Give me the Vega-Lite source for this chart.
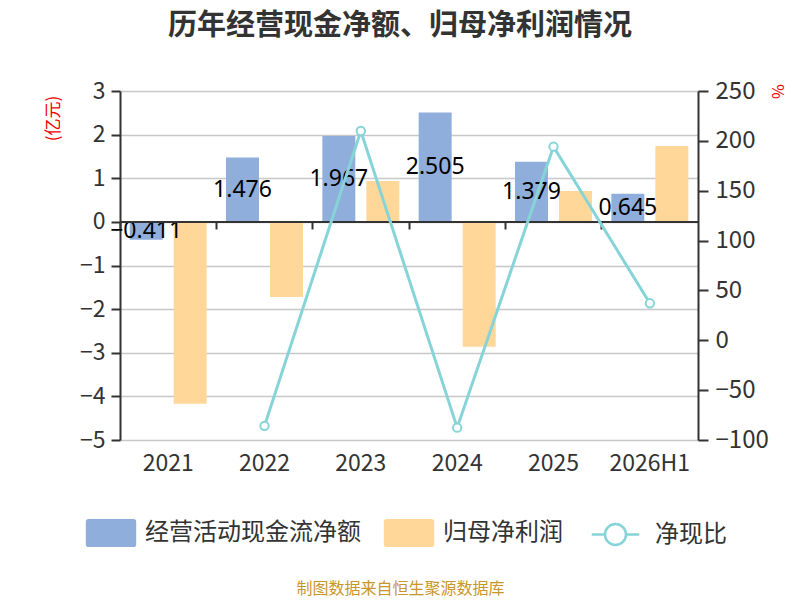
{
  "$schema": "https://vega.github.io/schema/vega-lite/v6.json",
  "width": 578,
  "height": 349,
  "autosize": {"type": "none"},
  "padding": {"left": 120, "top": 91, "right": 102, "bottom": 160},
  "config": {"view": {"stroke": null}, "font": "Noto Sans CJK SC"},
  "title": {"text": "历年经营现金净额、归母净利润情况", "fontSize": 29, "fontWeight": "bold", "color": "#333", "offset": 38, "anchor": "middle", "dx": -9},
  "datasets": {
    "bars": [
      {"year": "2021", "series": "经营活动现金流净额", "value": -0.411},
      {"year": "2021", "series": "归母净利润", "value": -4.17},
      {"year": "2022", "series": "经营活动现金流净额", "value": 1.476},
      {"year": "2022", "series": "归母净利润", "value": -1.72},
      {"year": "2023", "series": "经营活动现金流净额", "value": 1.967},
      {"year": "2023", "series": "归母净利润", "value": 0.937},
      {"year": "2024", "series": "经营活动现金流净额", "value": 2.505},
      {"year": "2024", "series": "归母净利润", "value": -2.86},
      {"year": "2025", "series": "经营活动现金流净额", "value": 1.379},
      {"year": "2025", "series": "归母净利润", "value": 0.71},
      {"year": "2026H1", "series": "经营活动现金流净额", "value": 0.645},
      {"year": "2026H1", "series": "归母净利润", "value": 1.74}
    ],
    "ratio": [
      {"year": "2022", "series": "净现比", "ratio": -85.8},
      {"year": "2023", "series": "净现比", "ratio": 209.9},
      {"year": "2024", "series": "净现比", "ratio": -87.6},
      {"year": "2025", "series": "净现比", "ratio": 194.2},
      {"year": "2026H1", "series": "净现比", "ratio": 37.1}
    ]
  },
  "layer": [
    {
      "data": {"name": "bars"},
      "layer": [
        {
          "mark": {"type": "bar"},
          "encoding": {
            "x": {"field": "year", "type": "nominal", "sort": null,
              "scale": {"paddingInner": 0, "paddingOuter": 0},
              "axis": {"orient": "bottom", "domain": false, "ticks": false, "labelAngle": 0, "labelFontSize": 23, "labelColor": "#333", "labelPadding": 12,
                "title": "制图数据来自恒生聚源数据库", "titleColor": "#C9962A", "titleFontSize": 16, "titleFontWeight": "normal", "titleX": 280, "titleY": 140, "titleAnchor": "middle"}},
            "xOffset": {"field": "series", "type": "nominal", "sort": null,
              "scale": {"domain": ["经营活动现金流净额", "归母净利润"], "paddingInner": 0.25, "paddingOuter": 0.22}},
            "y": {"field": "value", "type": "quantitative",
              "scale": {"domain": [-5, 3], "nice": false, "zero": false},
              "axis": {"values": [-5, -4, -3, -2, -1, 0, 1, 2, 3], "grid": true, "gridColor": "#c8c8c8", "gridWidth": 1.5, "domainColor": "#333", "domainWidth": 2, "tickColor": "#333", "tickWidth": 2, "tickSize": 9,
                "labelFontSize": 23, "labelColor": "#333", "labelPadding": 6,
                "title": "(亿元)", "titleColor": "#e00", "titleFontSize": 17, "titleFontWeight": "normal", "titleX": -58, "titleY": 27, "titleAngle": -90, "titleAlign": "center"}},
            "color": {"field": "series", "type": "nominal",
              "scale": {"domain": ["经营活动现金流净额", "归母净利润"], "range": ["#8FAEDB", "#FFD899"]},
              "legend": {"title": null, "orient": "none", "direction": "horizontal", "legendX": -23, "legendY": 428,
                "symbolType": "M-1.6,-1H1.6Q1.8,-1 1.8,-0.8V0.8Q1.8,1 1.6,1H-1.6Q-1.8,1 -1.8,0.8V-0.8Q-1.8,-1 -1.6,-1Z",
                "symbolSize": 784, "symbolStrokeWidth": 0, "symbolOpacity": 1, "labelFontSize": 24, "labelColor": "#333", "labelOffset": 20, "columnPadding": 22, "labelLimit": 300}}
          }
        },
        {
          "transform": [
            {"filter": "datum.series === '经营活动现金流净额'"},
            {"calculate": "datum.value / 2", "as": "mid"}
          ],
          "mark": {"type": "text", "fontSize": 23, "color": "#000", "font": "Noto Sans"},
          "encoding": {
            "x": {"field": "year", "type": "nominal", "sort": null,
              "axis": {"orient": "bottom", "offset": -218, "labels": false, "domain": false, "ticks": true, "tickColor": "#333", "tickWidth": 2, "tickSize": 7, "bandPosition": 0, "title": null}},
            "xOffset": {"field": "series", "type": "nominal", "sort": null},
            "y": {"field": "mid", "type": "quantitative"},
            "text": {"field": "value", "type": "quantitative"}
          }
        },
        {
          "mark": {"type": "rule", "color": "#333", "strokeWidth": 2},
          "encoding": {"y": {"datum": 0, "type": "quantitative"}}
        }
      ],
      "resolve": {"axis": {"x": "independent"}}
    },
    {
      "data": {"name": "ratio"},
      "mark": {"type": "line", "strokeWidth": 3, "point": {"filled": false, "fill": "white", "size": 70, "strokeWidth": 2}},
      "encoding": {
        "x": {"field": "year", "type": "nominal", "sort": null, "axis": null},
        "y": {"field": "ratio", "type": "quantitative",
          "scale": {"domain": [-100, 250], "nice": false, "zero": false},
          "axis": {"orient": "right", "values": [-100, -50, 0, 50, 100, 150, 200, 250], "grid": false, "domainColor": "#333", "domainWidth": 2, "tickColor": "#333", "tickWidth": 2, "tickSize": 10,
            "labelFontSize": 24, "labelColor": "#333", "labelPadding": 7,
            "title": "%", "titleColor": "#e00", "titleFontSize": 16, "titleFontWeight": "normal", "titleX": 70, "titleY": 0, "titleAngle": 90, "titleAlign": "center"}},
        "stroke": {"field": "series", "type": "nominal",
          "scale": {"domain": ["净现比"], "range": ["#86D4D8"]},
          "legend": {"title": null, "orient": "none", "legendX": 480, "legendY": 428,
            "symbolType": "M-1.7,0H-0.75M0.75,0H1.7M-0.75,0A0.75,0.75 0 1 1 0.75,0A0.75,0.75 0 1 1 -0.75,0Z",
            "symbolSize": 784, "symbolStrokeWidth": 2.5, "symbolFillColor": "white", "labelFontSize": 24, "labelColor": "#333", "labelOffset": 24}}
      }
    }
  ],
  "resolve": {"scale": {"y": "independent"}}
}
